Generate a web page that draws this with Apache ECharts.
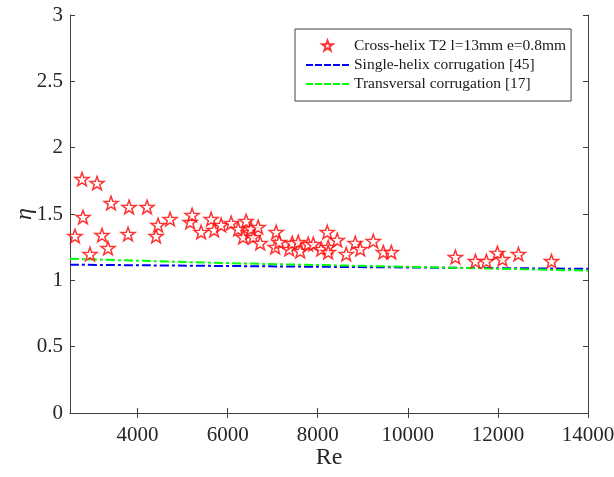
<!DOCTYPE html>
<html>
<head>
<meta charset="utf-8">
<script src="https://cdn.jsdelivr.net/npm/echarts@6/dist/echarts.min.js"></script>
<style>html,body{margin:0;padding:0;background:#fff}#c{width:614px;height:477px}</style>
</head>
<body>
<div id="c"></div>
<script>
var crossRe  = [2611,2767,2789,2944,3100,3211,3344,3411,3789,3811,4211,4411,4456,4722,5167,5211,5411,5633,5700,5856,6078,6233,6344,6411,6500,6520,6567,6678,6722,7056,7078,7144,7367,7433,7567,7611,7789,7900,8078,8211,8233,8233,8433,8633,8833,8944,9233,9456,9633,11056,11500,11744,11989,12100,12456,13189];
var crossEta = [1.334,1.763,1.477,1.198,1.733,1.341,1.243,1.583,1.349,1.553,1.553,1.334,1.417,1.462,1.439,1.492,1.364,1.462,1.379,1.417,1.432,1.387,1.326,1.447,1.364,1.39,1.326,1.402,1.281,1.251,1.364,1.289,1.236,1.281,1.289,1.221,1.274,1.274,1.236,1.364,1.251,1.213,1.304,1.198,1.281,1.236,1.296,1.213,1.213,1.176,1.145,1.145,1.206,1.16,1.198,1.145];
var lineRe     = [2500,6000,10000,14000];
var singleEta  = [1.118,1.108,1.097,1.087];
var transEta   = [1.163,1.130,1.102,1.073];
var xTicks = [4000,6000,8000,10000,12000,14000];
var seriesNames = ['Cross-helix T2 l=13mm e=0.8mm','Single-helix corrugation [45]','Transversal corrugation [17]'];

function pairs(a,b){return a.map(function(v,i){return [v,b[i]];});}
var star = 'path://M0,-10L2.35,-3.24L9.51,-3.09L3.8,1.24L5.88,8.09L0,4.2L-5.88,8.09L-3.8,1.24L-9.51,-3.09L-2.35,-3.24Z';
var starIcon = 'path://M0,0M43,14M21.5,1.5L22.8,5.3L26.7,5.3L23.6,7.7L24.7,11.5L21.5,9.2L18.3,11.5L19.4,7.7L16.3,5.3L20.2,5.3Z';
var dashIcon = 'path://M0,0M43,14M0,6h7v2h-7zM9,6h7v2h-7zM18,6h7v2h-7zM27,6h7v2h-7zM36,6h7v2h-7z';
var font = '"Liberation Serif","Times New Roman",serif';
var axisCol = '#404040';

var chart = echarts.init(document.getElementById('c'), null, {renderer:'canvas'});
chart.setOption({
  animation:false,
  textStyle:{fontFamily:font},
  grid:{left:70,right:26,top:15,bottom:64,containLabel:false,outerBoundsMode:'none'},
  legend:{
    orient:'vertical', left:295, top:29,
    padding:[9,5,9,10], itemGap:3, itemWidth:43, itemHeight:14,
    borderColor:'#404040', borderWidth:1, backgroundColor:'#fff',
    textStyle:{fontFamily:font,fontSize:15.5,color:'#1a1a1a'},
    data:[
      {name:seriesNames[0], icon:starIcon},
      {name:seriesNames[1], icon:dashIcon},
      {name:seriesNames[2], icon:dashIcon}
    ]
  },
  xAxis:[{
    type:'value', min:2500, max:14000,
    name:'Re', nameLocation:'middle', nameGap:33, nameMoveOverlap:false,
    nameTextStyle:{fontFamily:font,fontSize:24,color:'#262626'},
    axisLine:{show:true,lineStyle:{color:axisCol,width:1}},
    axisTick:{show:true,inside:true,length:5,customValues:xTicks,lineStyle:{color:axisCol}},
    axisLabel:{fontFamily:font,fontSize:21,color:'#262626',margin:12,customValues:xTicks,
      formatter:function(v){return String(v);}},
    splitLine:{show:false}
  },{
    type:'value', min:2500, max:14000, position:'top',
    axisLine:{show:true,lineStyle:{color:axisCol,width:1}},
    axisTick:{show:true,inside:true,length:5,customValues:xTicks,lineStyle:{color:axisCol}},
    axisLabel:{show:false}, splitLine:{show:false}
  }],
  yAxis:[{
    type:'value', min:0, max:3, interval:0.5,
    name:'η', nameLocation:'middle', nameGap:33, nameRotate:90, nameMoveOverlap:false,
    nameTextStyle:{fontFamily:font,fontSize:24,fontStyle:'italic',color:'#262626'},
    axisLine:{show:true,lineStyle:{color:axisCol,width:1}},
    axisTick:{show:true,inside:true,length:5,lineStyle:{color:axisCol}},
    axisLabel:{fontFamily:font,fontSize:21,color:'#262626',margin:7},
    splitLine:{show:false}
  },{
    type:'value', min:0, max:3, interval:0.5, position:'right',
    axisLine:{show:true,lineStyle:{color:axisCol,width:1}},
    axisTick:{show:true,inside:true,length:5,lineStyle:{color:axisCol}},
    axisLabel:{show:false}, splitLine:{show:false}
  }],
  series:[
    {
      name:seriesNames[0], type:'scatter', data:pairs(crossRe,crossEta),
      symbol:star, symbolSize:14, symbolKeepAspect:true,
      itemStyle:{color:'#fff',borderColor:'#ff0000',borderWidth:1.5},
      z:3
    },
    {
      name:seriesNames[1], type:'line', data:pairs(lineRe,singleEta),
      symbol:'none', smooth:true,
      lineStyle:{color:'#0000ff',width:2,type:[9,3,3,3]},
      itemStyle:{color:'#0000ff'}
    },
    {
      name:seriesNames[2], type:'line', data:pairs(lineRe,transEta),
      symbol:'none', smooth:true,
      lineStyle:{color:'#00ff00',width:2,type:[9,3,3,3]},
      itemStyle:{color:'#00ff00'}
    }
  ]
});
</script>
</body>
</html>
